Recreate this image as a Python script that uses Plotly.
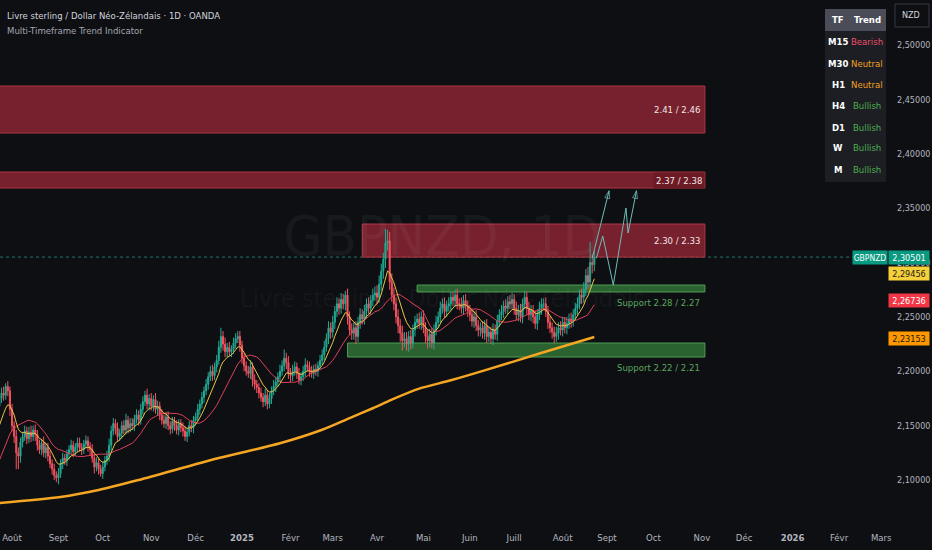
import pandas as pd
import plotly.graph_objects as go

# ---- data (GBPNZD, 1D, OANDA) ----
# daily closes, one row per week (Mon..Fri), from 17 juin 2024
closes = [
    2.068, 2.072, 2.075, 2.070, 2.066,  # 2024-06-17
    2.070, 2.075, 2.078, 2.074, 2.076,
    2.082, 2.086, 2.090, 2.088, 2.092,
    2.094, 2.100, 2.112, 2.118, 2.122,
    2.126, 2.134, 2.148, 2.156, 2.160,
    2.162, 2.168, 2.175, 2.180, 2.178,  # 2024-07-22
    2.186, 2.182, 2.165, 2.150, 2.140,
    2.125, 2.122, 2.135, 2.140, 2.145,
    2.138, 2.144, 2.140, 2.146, 2.142,
    2.132, 2.128, 2.134, 2.125, 2.130,
    2.122, 2.115, 2.110, 2.104, 2.102,
    2.106, 2.115, 2.120, 2.118, 2.124,  # 2024-09-02
    2.128, 2.132, 2.126, 2.130, 2.134,
    2.130, 2.128, 2.133, 2.136, 2.131,
    2.128, 2.120, 2.112, 2.116, 2.110,
    2.106, 2.112, 2.118, 2.122, 2.132,
    2.145, 2.152, 2.148, 2.140, 2.143,  # 2024-10-07
    2.150, 2.146, 2.155, 2.148, 2.152,
    2.150, 2.156, 2.160, 2.155, 2.165,
    2.172, 2.178, 2.170, 2.175, 2.168,
    2.174, 2.165, 2.168, 2.160, 2.155,  # 2024-11-04
    2.152, 2.158, 2.150, 2.147, 2.154,
    2.150, 2.146, 2.152, 2.148, 2.145,
    2.140, 2.144, 2.150, 2.148, 2.155,
    2.158, 2.165, 2.170, 2.176, 2.182,  # 2024-12-02
    2.188, 2.195, 2.200, 2.196, 2.204,
    2.210, 2.222, 2.232, 2.225, 2.218,
    2.222, 2.218, 2.220, 2.226, 2.230,
    2.232, 2.224, 2.212, 2.205, 2.200,
    2.198, 2.204, 2.192, 2.188, 2.185,  # 2025-01-06
    2.180, 2.176, 2.172, 2.178, 2.170,
    2.175, 2.182, 2.186, 2.190, 2.195,
    2.200, 2.205, 2.212, 2.208, 2.198,
    2.196, 2.200, 2.204, 2.198, 2.192,  # 2025-02-03
    2.195, 2.200, 2.206, 2.204, 2.200,
    2.198, 2.202, 2.200, 2.205, 2.210,
    2.215, 2.222, 2.230, 2.240, 2.236,
    2.245, 2.255, 2.262, 2.258, 2.266,  # 2025-03-03
    2.262, 2.270, 2.250, 2.238, 2.235,
    2.240, 2.232, 2.245, 2.252, 2.248,
    2.255, 2.262, 2.258, 2.265, 2.270,
    2.272, 2.268, 2.280, 2.292, 2.303,
    2.318, 2.320, 2.282, 2.270, 2.262,  # 2025-04-07
    2.250, 2.242, 2.235, 2.228, 2.230,
    2.225, 2.232, 2.226, 2.238, 2.245,
    2.248, 2.244, 2.250, 2.240, 2.232,
    2.228, 2.234, 2.226, 2.238, 2.245,  # 2025-05-05
    2.250, 2.258, 2.262, 2.255, 2.260,
    2.262, 2.268, 2.265, 2.270, 2.262,
    2.262, 2.258, 2.265, 2.260, 2.256,
    2.252, 2.246, 2.250, 2.242, 2.238,  # 2025-06-02
    2.240, 2.235, 2.242, 2.232, 2.236,
    2.230, 2.238, 2.234, 2.246, 2.252,
    2.255, 2.260, 2.258, 2.264, 2.262,
    2.266, 2.258, 2.252, 2.256, 2.250,
    2.262, 2.268, 2.258, 2.252, 2.256,  # 2025-07-07
    2.250, 2.244, 2.252, 2.258, 2.262,
    2.262, 2.255, 2.245, 2.240, 2.236,
    2.232, 2.235, 2.240, 2.238, 2.245,
    2.240, 2.244, 2.248, 2.246, 2.252,  # 2025-08-04
    2.258, 2.262, 2.270, 2.268, 2.275,
    2.288, 2.282, 2.300, 2.298, 2.30501,
]

# wick lengths above / below the candle body, in thousandths
wick_hi = [
    4, 3, 4, 3, 3,  3, 4, 3, 3, 4,  4, 3, 4, 3, 5,  3, 5, 4, 4, 3,  4, 5, 4, 5, 4,
    4, 5, 4, 5, 6,  3, 5, 4, 5, 4,  6, 5, 4, 4, 5,  4, 5, 6, 4, 5,  4, 5, 4, 6, 4,
    4, 5, 4, 5, 4,  5, 4, 5, 4, 4,  4, 5, 4, 4, 5,  5, 4, 4, 5, 4,  4, 5, 4, 5, 4,
    4, 5, 4, 5, 6,  5, 5, 4, 5, 4,  4, 5, 6, 4, 5,  5, 4, 5, 4, 5,  5, 4, 6, 4, 5,
    4, 6, 5, 4, 5,  5, 4, 5, 4, 4,  4, 5, 4, 4, 5,  5, 4, 4, 5, 4,  4, 5, 4, 5, 4,
    5, 4, 5, 6, 4,  5, 6, 8, 5, 6,  4, 5, 4, 5, 5,  5, 5, 4, 5, 4,  5, 6, 4, 5, 4,
    4, 5, 4, 6, 5,  5, 4, 6, 5, 4,  6, 5, 8, 5, 6,  5, 6, 5, 4, 5,  4, 5, 6, 4, 5,
    5, 4, 5, 4, 5,  5, 6, 5, 6, 5,  6, 5, 6, 5, 6,  5, 4, 6, 5, 6,  5, 6, 5, 6, 5,
    6, 5, 6, 5, 6,  6, 7, 8, 7, 6,  13, 10, 8, 8, 7,  6, 7, 6, 7, 6,  6, 5, 6, 5, 6,
    5, 6, 5, 6, 5,  6, 5, 6, 5, 6,  5, 6, 5, 6, 5,  6, 5, 5, 5, 6,  5, 6, 5, 6, 5,
    5, 6, 5, 6, 5,  5, 6, 5, 6, 5,  5, 6, 5, 6, 5,  6, 5, 6, 5, 6,  6, 5, 6, 5, 6,
    5, 6, 5, 6, 5,  5, 6, 5, 6, 5,  5, 6, 5, 6, 5,  5, 6, 5, 6, 5,  5, 6, 5, 6, 5,
    5, 6, 5, 6, 7,  6, 8, 19, 8, 6,
]
wick_lo = [
    3, 4, 3, 4, 3,  4, 3, 3, 4, 3,  3, 4, 3, 3, 4,  4, 3, 3, 4, 3,  3, 4, 3, 4, 5,
    5, 3, 4, 4, 5,  4, 5, 6, 5, 6,  15, 12, 6, 5, 4,  5, 4, 5, 4, 6,  5, 4, 5, 4, 5,
    5, 4, 5, 4, 4,  6, 4, 5, 4, 5,  5, 4, 5, 4, 4,  4, 5, 4, 4, 5,  5, 4, 6, 4, 5,
    3, 5, 4, 4, 5,  5, 4, 6, 5, 4,  5, 4, 4, 5, 4,  4, 5, 4, 5, 4,  5, 4, 5, 6, 4,
    5, 4, 6, 5, 4,  4, 5, 4, 5, 4,  5, 4, 5, 4, 5,  4, 5, 4, 4, 5,  5, 4, 5, 4, 5,
    4, 5, 4, 5, 4,  5, 4, 5, 6, 5,  5, 4, 5, 4, 5,  4, 6, 5, 5, 4,  4, 5, 6, 5, 5,
    5, 4, 5, 4, 5,  4, 5, 4, 5, 4,  5, 4, 5, 6, 5,  6, 5, 4, 5, 4,  5, 4, 5, 4, 5,
    4, 5, 4, 5, 4,  4, 5, 4, 5, 6,  5, 6, 5, 6, 5,  5, 6, 7, 5, 6,  6, 7, 5, 6, 5,
    5, 6, 5, 6, 5,  5, 6, 5, 6, 7,  8, 7, 7, 6, 6,  6, 7, 8, 9, 6,  6, 7, 6, 5, 6,
    6, 5, 6, 5, 6,  7, 6, 5, 6, 5,  5, 6, 5, 6, 5,  5, 6, 5, 6, 5,  6, 5, 6, 5, 6,
    6, 5, 6, 5, 6,  6, 5, 6, 6, 5,  5, 6, 5, 6, 5,  5, 6, 5, 6, 5,  5, 6, 5, 6, 5,
    6, 5, 6, 5, 6,  6, 5, 6, 5, 6,  6, 5, 6, 5, 6,  6, 5, 6, 5, 6,  5, 6, 5, 6, 5,
    5, 6, 5, 6, 5,  6, 7, 6, 8, 6,
]

# 200 MA (orange), read at a few dates
ma200_dates = ["2024-07-22", "2024-09-03", "2024-09-27", "2024-10-24", "2024-12-17",
               "2025-01-27", "2025-02-24", "2025-03-13", "2025-03-28", "2025-04-10",
               "2025-04-29", "2025-05-20", "2025-06-11", "2025-07-17", "2025-08-22"]
ma200_vals = [2.0786, 2.0844, 2.0908, 2.1000, 2.1202,
              2.1338, 2.1462, 2.1569, 2.1660, 2.1739,
              2.1840, 2.1917, 2.2008, 2.2163, 2.23153]

# zones
zone_top = [2.4623, 2.3832, 2.3354, 2.2793, 2.2260]
zone_bot = [2.4191, 2.3685, 2.3050, 2.2729, 2.2131]
zone_start = ["2024-07-01", "2024-07-01", "2025-03-21", "2025-04-28", "2025-03-12"]
zone_end = "2025-11-04 10:00"
zone_kind = ["res", "res", "res", "sup", "sup"]
zone_text = ["2.41 / 2.46", "2.37 / 2.38", "2.30 / 2.33", "Support 2.28 / 2.27", "Support 2.22 / 2.21"]

# projected paths (drawings)
path1_x = ["2025-08-21", "2025-09-02"]
path1_y = [2.3040, 2.3660]
path2_x = ["2025-08-25", "2025-08-28", "2025-09-04", "2025-09-12", "2025-09-15", "2025-09-19"]
path2_y = [2.3040, 2.3244, 2.2793, 2.3501, 2.3271, 2.3660]

# multi-timeframe table
tf_rows = ["M15", "M30", "H1", "H4", "D1", "W", "M"]
trend_rows = ["Bearish", "Neutral", "Neutral", "Bullish", "Bullish", "Bullish", "Bullish"]

# last values on the price scale
last_price = 2.30501
tag_vals = [2.29456, 2.26736, 2.23153]

# time axis labels
tick_dates = ["2024-08-01", "2024-09-02", "2024-10-01", "2024-11-01", "2024-12-02",
              "2025-01-01", "2025-02-03", "2025-03-03", "2025-04-01", "2025-05-01",
              "2025-06-02", "2025-07-01", "2025-08-01", "2025-09-01", "2025-10-01",
              "2025-11-03", "2025-12-01", "2026-01-01", "2026-02-02", "2026-03-02"]
tick_text = ["Août", "Sept", "Oct", "Nov", "Déc", "<b>2025</b>", "Févr", "Mars", "Avr", "Mai",
             "Juin", "Juill", "Août", "Sept", "Oct", "Nov", "Déc", "<b>2026</b>", "Févr", "Mars"]
price_ticks = [2.10, 2.15, 2.20, 2.25, 2.30, 2.35, 2.40, 2.45, 2.50]

# ---- build ----
BG = "#0e0f13"
FONT = "DejaVu Sans Condensed, Roboto, sans-serif"
UP, DOWN = "#22ab94", "#f7525f"
PW, PH = 888, 522  # plot area in px


def px(x):
    return x / PW


def py(y):
    return 1 - y / PH


dates = pd.bdate_range("2024-06-17", "2025-08-22")
close = pd.Series(closes, index=dates)
opens = [closes[0]] + closes[:-1]
highs = [max(o, c) + w / 1000 for o, c, w in zip(opens, closes, wick_hi)]
lows = [min(o, c) - w / 1000 for o, c, w in zip(opens, closes, wick_lo)]

ema_fast = close.ewm(span=9, adjust=False).mean()
sma_slow = close.rolling(20).mean()

fig = go.Figure()

# watermark
fig.add_trace(go.Scatter(
    x=["2025-05-14", "2025-05-14"], y=[2.320, 2.265], mode="text",
    text=["GBPNZD, 1D", "Livre sterling / Dollar Néo-Zélandais"],
    textfont=dict(size=[56, 25], color="rgba(255,255,255,0.045)", family=FONT),
    hoverinfo="skip", showlegend=False))

fig.add_trace(go.Scatter(x=ma200_dates, y=ma200_vals, mode="lines",
                         line=dict(color="#f5a623", width=2.5, shape="spline", smoothing=0.8),
                         hoverinfo="skip", showlegend=False))
fig.add_trace(go.Scatter(x=dates, y=sma_slow, mode="lines",
                         line=dict(color="#e0405a", width=1),
                         hoverinfo="skip", showlegend=False))
fig.add_trace(go.Scatter(x=dates, y=ema_fast, mode="lines",
                         line=dict(color="#e8c547", width=1),
                         hoverinfo="skip", showlegend=False))

fig.add_trace(go.Candlestick(
    x=dates, open=opens, high=highs, low=lows, close=closes,
    increasing=dict(line=dict(color=UP, width=1), fillcolor=UP),
    decreasing=dict(line=dict(color=DOWN, width=1), fillcolor=DOWN),
    whiskerwidth=0, hoverinfo="skip", showlegend=False))

# projected paths
for xs, ys in [(path1_x, path1_y), (path2_x, path2_y)]:
    fig.add_trace(go.Scatter(
        x=xs, y=ys, mode="lines+markers",
        line=dict(color="#6fbcb8", width=1),
        marker=dict(symbol=["circle"] * (len(xs) - 1) + ["arrow-open"],
                    size=[0] * (len(xs) - 1) + [8], angleref="previous",
                    color="#6fbcb8", line=dict(color="#6fbcb8", width=1)),
        hoverinfo="skip", showlegend=False))

shapes = []
# last price line
shapes.append(dict(type="line", xref="paper", yref="y", x0=0, x1=1, y0=last_price, y1=last_price,
                   line=dict(color="#1d7a6e", width=1, dash="dot"), layer="below"))
for top, bot, start, kind in zip(zone_top, zone_bot, zone_start, zone_kind):
    fill, edge = ("#76212d", "#b23644") if kind == "res" else ("#2b6330", "#4f9d55")
    shapes.append(dict(type="rect", xref="x", yref="y", x0=start, x1=zone_end, y0=bot, y1=top,
                       fillcolor=fill, line=dict(color=edge, width=1), layer="below"))

# table
shapes.append(dict(type="rect", xref="paper", yref="paper", x0=px(825), x1=px(886),
                   y0=py(31), y1=py(9), fillcolor="#4a4d57", line_width=0))
shapes.append(dict(type="rect", xref="paper", yref="paper", x0=px(825), x1=px(886),
                   y0=py(182), y1=py(31), fillcolor="#1c1e24", line_width=0))
# currency box on the price scale
shapes.append(dict(type="rect", xref="paper", yref="paper", x0=px(895), x1=px(929),
                   y0=py(27), y1=py(4), line=dict(color="#363a45", width=1)))

ann = []
ann.append(dict(xref="paper", yref="paper", x=px(5), y=py(15), xanchor="left", yanchor="middle",
                text="Livre sterling / Dollar Néo-Zélandais · 1D · OANDA", showarrow=False,
                font=dict(size=9.5, color="#d1d4dc")))
ann.append(dict(xref="paper", yref="paper", x=px(5), y=py(30), xanchor="left", yanchor="middle",
                text="Multi-Timeframe Trend Indicator", showarrow=False,
                font=dict(size=9.5, color="#a3a6af")))

for top, bot, kind, txt in zip(zone_top, zone_bot, zone_kind, zone_text):
    if kind == "res":
        a = dict(xref="paper", yref="y", x=px(702), y=(top + bot) / 2, xanchor="right",
                 yanchor="middle", text=txt, showarrow=False,
                 font=dict(size=9.5, color="#f2e6e8"))
        if top - bot < 0.02:
            a.update(x=px(705), bgcolor="#6c1b26", borderpad=2)
        ann.append(a)
    else:
        ann.append(dict(xref="paper", yref="y", x=px(702), y=bot, xanchor="right", yanchor="top",
                        yshift=-3, text=txt, showarrow=False,
                        font=dict(size=9.5, color="#5aa85f")))

trend_col = {"Bearish": "#ef4f6a", "Neutral": "#f0a020", "Bullish": "#4caf50"}


def cell(x, y, text, color):
    return dict(xref="paper", yref="paper", x=px(x), y=py(y), xanchor="center", yanchor="middle",
                text=text, showarrow=False, font=dict(size=9.5, color=color))


ann.append(cell(838, 20, "<b>TF</b>", "#ffffff"))
ann.append(cell(867, 20, "<b>Trend</b>", "#ffffff"))
row_y = [41, 63, 84, 106, 127, 148, 170]
for r, tf, tr in zip(row_y, tf_rows, trend_rows):
    ann.append(cell(838, r, "<b>%s</b>" % tf, "#ffffff"))
    ann.append(cell(867, r, tr, trend_col[tr]))

ann.append(dict(xref="paper", yref="paper", x=px(900), y=py(15), xanchor="left", yanchor="middle",
                text="NZD", showarrow=False, font=dict(size=9, color="#d1d4dc")))


def fmt(v):
    return ("%.5f" % v).replace(".", ",")


ann.append(dict(xref="paper", yref="y", x=1, y=last_price, xanchor="right", yanchor="middle",
                text="GBPNZD", showarrow=False, bgcolor="#089981", width=32, height=11,
                borderpad=1, font=dict(size=8.5, color="#ffffff")))
tag_style = [("#089981", "#ffffff", 0), ("#f5d03a", "#1a1a1a", -5),
             ("#f23645", "#ffffff", -2), ("#ff9800", "#1a1a1a", -2)]
for v, (bg, fg, shift) in zip([last_price] + tag_vals, tag_style):
    ann.append(dict(xref="paper", yref="y", x=1, y=v, xanchor="left", yanchor="middle",
                    yshift=shift, text=fmt(v), showarrow=False, bgcolor=bg, width=38, height=11,
                    borderpad=1, font=dict(size=9, color=fg)))

fig.update_layout(
    width=932, height=550,
    margin=dict(l=0, r=44, t=0, b=28),
    paper_bgcolor=BG, plot_bgcolor=BG,
    font=dict(family=FONT, size=9.5, color="#b2b5be"),
    separators=", ",
    shapes=shapes, annotations=ann,
    showlegend=False, hovermode=False,
)
fig.update_xaxes(
    type="date", range=["2024-07-24 07:00", "2026-03-05 05:00"],
    rangebreaks=[dict(bounds=["sat", "mon"])],
    rangeslider_visible=False,
    tickvals=tick_dates, ticktext=tick_text, ticks="", ticklabelstandoff=8,
    tickfont=dict(size=9.5, color="#b2b5be"),
    showgrid=False, zeroline=False, showline=False,
)
fig.update_yaxes(
    side="right", range=[2.0614, 2.5414],
    tickvals=price_ticks, tickformat=".5f", ticks="", ticklabelstandoff=8,
    tickfont=dict(size=9, color="#b2b5be"),
    showgrid=False, zeroline=False, showline=False,
)

fig.write_html("out.html", post_script="document.body.style.margin='0';",
               config={"displayModeBar": False})
